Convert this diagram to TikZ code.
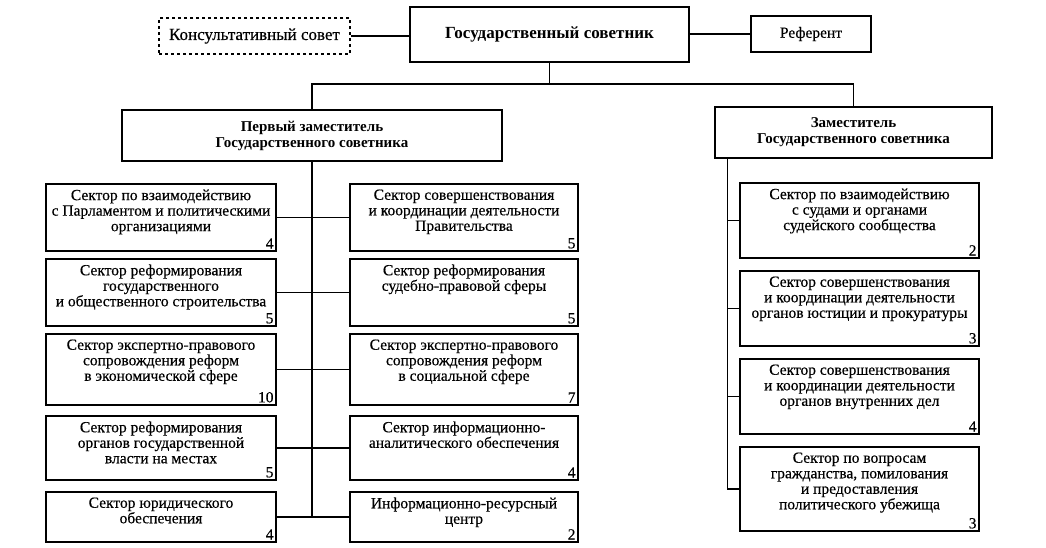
\documentclass[tikz,border=0pt]{standalone}
\usepackage{fontspec}
\setmainfont{Liberation Serif}
\newfontfamily\scanfont[FakeBold=0.4]{Liberation Serif}
\usepackage{tikz}
\usetikzlibrary{positioning}
\tikzstyle{block} = [rectangle, draw, line width=1.4pt, inner sep=0pt]
\tikzstyle{head} = [rectangle, draw, line width=1.8pt, inner sep=0pt,
    align=center, font=\fontsize{15}{16}\selectfont\bfseries]
\tikzstyle{txt} = [align=center, inner sep=0pt, font=\fontsize{15.5}{15.5}\selectfont\scanfont]
\tikzstyle{num} = [anchor=south east, inner sep=3pt, font=\fontsize{15.5}{15.5}\selectfont\scanfont]
\tikzstyle{line} = [draw, line width=1.2pt]

\begin{document}
\begin{tikzpicture}[x=1pt, y=-1pt]
\useasboundingbox (0,0) rectangle (1046,547);
% top level
\node [block, dashed, txt, font=\fontsize{17}{17}\selectfont\scanfont, minimum width=191pt, minimum height=36pt] at (254.5,36) (kons) {Консультативный совет};
\node [head, line width=2.4pt, font=\fontsize{17}{17}\selectfont\bfseries, minimum width=279pt, minimum height=55pt] at (549.5,34.5) (gos) {Государственный советник};
\node [block, txt, minimum width=120pt, minimum height=36pt] at (811,34) (ref) {Референт};
\node [head, minimum width=380pt, minimum height=51pt] at (312,135.5) (perv) {Первый заместитель\\Государственного советника};
\node [head, minimum width=277pt, minimum height=51pt] at (853.5,132.5) (zam) {Заместитель\\Государственного советника};
\coordinate (bus) at (0,84);

\draw [line] (kons.east) -- (kons.east -| gos.west);
\draw [line] (ref.west) -- (ref.west -| gos.east);
\draw [line] (gos.south) -- (gos.south |- bus);
\draw [line] (perv.north) |- (zam.north |- bus) -- (zam.north);

% left column
\node [block, minimum width=230pt, minimum height=67pt] at (161,217.5) (l1) {};
\node [txt, below=6pt of l1.north] (l1t) {Сектор по взаимодействию\\с Парламентом и политическими\\организациями};
\node [num] at (l1.south east) (l1n) {4};
\node [block, minimum width=230pt, minimum height=67pt] at (161,292.5) (l2) {};
\node [txt, below=6pt of l2.north] (l2t) {Сектор реформирования\\государственного\\и общественного строительства};
\node [num] at (l2.south east) (l2n) {5};
\node [block, minimum width=230pt, minimum height=71pt] at (161,369.5) (l3) {};
\node [txt, below=6pt of l3.north] (l3t) {Сектор экспертно-правового\\сопровождения реформ\\в экономической сфере};
\node [num] at (l3.south east) (l3n) {10};
\node [block, minimum width=230pt, minimum height=64pt] at (161,448) (l4) {};
\node [txt, below=6pt of l4.north] (l4t) {Сектор реформирования\\органов государственной\\власти на местах};
\node [num] at (l4.south east) (l4n) {5};
\node [block, minimum width=230pt, minimum height=50pt] at (161,517) (l5) {};
\node [txt, below=6pt of l5.north] (l5t) {Сектор юридического\\обеспечения};
\node [num] at (l5.south east) (l5n) {4};

% middle column
\node [block, minimum width=228pt, minimum height=67pt] at (464,217.5) (m1) {};
\node [txt, below=6pt of m1.north] (m1t) {Сектор совершенствования\\и координации деятельности\\Правительства};
\node [num] at (m1.south east) (m1n) {5};
\node [block, minimum width=228pt, minimum height=67pt] at (464,292.5) (m2) {};
\node [txt, below=6pt of m2.north] (m2t) {Сектор реформирования\\судебно-правовой сферы};
\node [num] at (m2.south east) (m2n) {5};
\node [block, minimum width=228pt, minimum height=71pt] at (464,369.5) (m3) {};
\node [txt, below=6pt of m3.north] (m3t) {Сектор экспертно-правового\\сопровождения реформ\\в социальной сфере};
\node [num] at (m3.south east) (m3n) {7};
\node [block, minimum width=228pt, minimum height=64pt] at (464,448) (m4) {};
\node [txt, below=6pt of m4.north] (m4t) {Сектор информационно-\\аналитического обеспечения};
\node [num] at (m4.south east) (m4n) {4};
\node [block, minimum width=228pt, minimum height=50pt] at (464,517) (m5) {};
\node [txt, below=6pt of m5.north] (m5t) {Информационно-ресурсный\\центр};
\node [num] at (m5.south east) (m5n) {2};

\draw [line] (perv.south) -- (perv.south |- l5.east);
\foreach \i in {1,...,5}
  \draw [line] (l\i.east) -- (m\i.west);

% right column
\node [block, minimum width=239pt, minimum height=75pt] at (859.5,220.5) (r1) {};
\node [txt, below=6pt of r1.north] (r1t) {Сектор по взаимодействию\\с судами и органами\\судейского сообщества};
\node [num] at (r1.south east) (r1n) {2};
\node [block, minimum width=239pt, minimum height=75pt] at (859.5,308.5) (r2) {};
\node [txt, below=6pt of r2.north] (r2t) {Сектор совершенствования\\и координации деятельности\\органов юстиции и прокуратуры};
\node [num] at (r2.south east) (r2n) {3};
\node [block, minimum width=239pt, minimum height=75pt] at (859.5,396.5) (r3) {};
\node [txt, below=6pt of r3.north] (r3t) {Сектор совершенствования\\и координации деятельности\\органов внутренних дел};
\node [num] at (r3.south east) (r3n) {4};
\node [block, minimum width=239pt, minimum height=84pt] at (859.5,489) (r4) {};
\node [txt, below=6pt of r4.north] (r4t) {Сектор по вопросам\\гражданства, помилования\\и предоставления\\политического убежища};
\node [num] at (r4.south east) (r4n) {3};

\coordinate (zs) at ([xshift=13pt]zam.south west);
\draw [line] (zs) |- (r4.west);
\foreach \i in {1,2,3}
  \draw [line] (zs |- r\i.west) -- (r\i.west);
\end{tikzpicture}
\end{document}
